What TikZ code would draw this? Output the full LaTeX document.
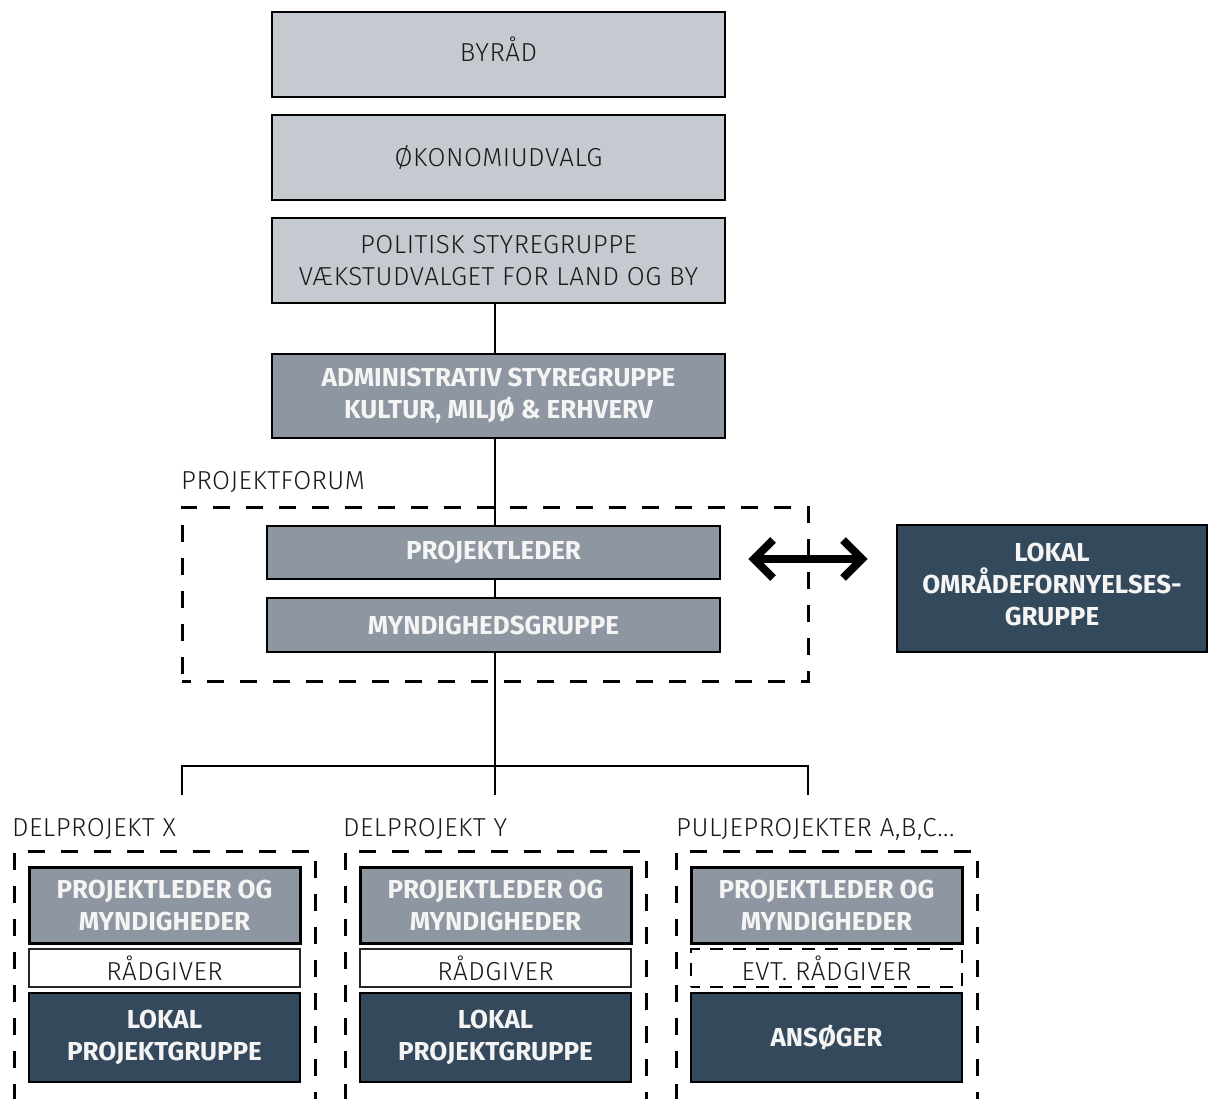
\documentclass[tikz,border=0pt]{standalone}
\usepackage{fontspec}
\setmainfont{Fira Sans}
\newfontfamily\lightfont{Fira Sans Light}[LetterSpace=2]
\usetikzlibrary{arrows.meta,calc}
\definecolor{lightfill}{HTML}{C5C9D0}
\definecolor{midfill}{HTML}{8E96A2}
\definecolor{darkfill}{HTML}{34495B}
\definecolor{textdark}{HTML}{1A1A1A}
\definecolor{whitetext}{HTML}{F4F4F4}
\tikzset{
  lighttext/.style={font=\lightfont\fontsize{26}{32}\selectfont, text=textdark},
  boldtext/.style={font=\bfseries\fontsize{26}{32}\selectfont, text=whitetext},
  box/.style={rectangle, align=center, inner sep=0pt},
  lightbox/.style={box, lighttext, draw=black, line width=2.5pt, fill=lightfill},
  midbox/.style={box, boldtext, draw=black, line width=2.5pt, fill=midfill},
  darkbox/.style={box, boldtext, draw=black, line width=1.8pt, fill=darkfill},
  whitebox/.style={box, lighttext, draw=black!85, line width=1.5pt, fill=white},
  evtbox/.style={box, lighttext, draw=black, line width=1.5pt, dash pattern=on 13pt off 10pt, dash phase=4pt, fill=white},
  container/.style={rectangle, draw=black, line width=3pt, dash pattern=on 17pt off 16pt, dash phase=8pt, inner sep=0pt},
  lbl/.style={lighttext, anchor=base west, inner sep=0pt},
  conn/.style={draw=black, line width=2pt},
  dblarrow/.style={draw=black, line width=8pt, line join=miter, miter limit=10},
}
\begin{document}
\begin{tikzpicture}[x=1pt,y=-1pt]
\useasboundingbox (0,0) rectangle (1209,1098);
\clip (0,0) rectangle (1209,1098);
\fill[white] (0,0) rectangle (1209,1098);

% top chain
\node[lightbox, minimum width=453pt, minimum height=85pt, text height=16pt, text depth=2pt] (byrad) at (498.5,54.5) {BYRÅD};
\node[lightbox, minimum width=453pt, minimum height=85pt] (okon) at (498.5,157.5) {ØKONOMIUDVALG};
\node[lightbox, minimum width=453pt, minimum height=85pt] (polit) at (498.5,260.5) {POLITISK STYREGRUPPE\\VÆKSTUDVALGET FOR LAND OG BY};
\node[midbox, minimum width=453pt, minimum height=84pt] (admin) at (498.5,396) {ADMINISTRATIV STYREGRUPPE\\KULTUR, MILJØ \& ERHVERV};

% projektforum
\node[container, minimum width=626pt, minimum height=174pt] (forum) at (495,594) {};
\node[lbl] (forumlbl) at (181,489.5) {PROJEKTFORUM};
\node[midbox, minimum width=453pt, minimum height=53pt] (pl) at (493.5,552.5) {PROJEKTLEDER};
\node[midbox, minimum width=453pt, minimum height=54pt] (myn) at (493.5,625) {MYNDIGHEDSGRUPPE};

\node[darkbox, minimum width=310pt, minimum height=127pt] (lokomr) at (1052,588.5) {LOKAL\\OMRÅDEFORNYELSES-\\GRUPPE\rule[-8pt]{0pt}{0pt}};

% double arrow between projektleder and lokal områdefornyelsesgruppe
\coordinate (arL) at (754,559);
\coordinate (arR) at (862,559);
\draw[dblarrow] (arL) -- (arR);
\draw[dblarrow] ($(arL)+(19,-19)$) -- (arL) -- ($(arL)+(19,19)$);
\draw[dblarrow] ($(arR)+(-19,-19)$) -- (arR) -- ($(arR)+(-19,19)$);

% connectors
\draw[conn] ([xshift=-3.5pt]polit.south) -- ([xshift=-3.5pt]admin.north);
\draw[conn] ([xshift=-3.5pt]admin.south) -- ([xshift=1.5pt]pl.north);
\draw[conn] ([xshift=1.5pt]pl.south) -- ([xshift=1.5pt]myn.north);
\coordinate (junc) at (495,766);
\coordinate (brL) at (182,795);
\coordinate (brM) at (495,795);
\coordinate (brR) at (808,795);
\draw[conn] ([xshift=1.5pt]myn.south) -- (junc);
\draw[conn] (brL) |- (junc) -| (brR);
\draw[conn] (junc) -- (brM);

% bottom groups
\node[container, minimum width=301pt, minimum height=279pt] (cx) at (164.5,990.5) {};
\node[container, minimum width=301pt, minimum height=279pt] (cy) at (495.5,990.5) {};
\node[container, minimum width=301pt, minimum height=279pt] (cz) at (826.5,990.5) {};
\node[lbl] (lx) at (12,836) {DELPROJEKT X};
\node[lbl] (ly) at (343,836) {DELPROJEKT Y};
\node[lbl] (lz) at (676,836) {PULJEPROJEKTER A,B,C...};

\node[midbox, line width=3pt, minimum width=271pt, minimum height=76pt] (plx) at (164.5,905) {PROJEKTLEDER OG\\MYNDIGHEDER};
\node[midbox, line width=3pt, minimum width=271pt, minimum height=76pt] (ply) at (495.5,905) {PROJEKTLEDER OG\\MYNDIGHEDER};
\node[midbox, line width=3pt, minimum width=271pt, minimum height=76pt] (plz) at (826.5,905) {PROJEKTLEDER OG\\MYNDIGHEDER};

\node[whitebox, minimum width=271pt, minimum height=38pt] (rx) at (164.5,968) {RÅDGIVER};
\node[whitebox, minimum width=271pt, minimum height=38pt] (ry) at (495.5,968) {RÅDGIVER};
\node[evtbox, minimum width=271pt, minimum height=38pt] (rz) at (826.5,968) {EVT. RÅDGIVER};

\node[darkbox, minimum width=271pt, minimum height=89pt] (gx) at (164.5,1037.5) {LOKAL\\PROJEKTGRUPPE};
\node[darkbox, minimum width=271pt, minimum height=89pt] (gy) at (495.5,1037.5) {LOKAL\\PROJEKTGRUPPE};
\node[darkbox, minimum width=271pt, minimum height=89pt] (gz) at (826.5,1037.5) {ANSØGER};
\end{tikzpicture}
\end{document}
